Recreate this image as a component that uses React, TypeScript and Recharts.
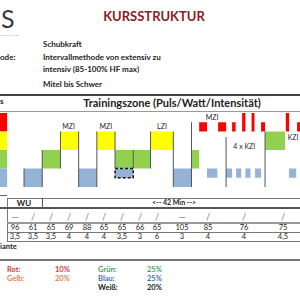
import { ComposedChart, XAxis, YAxis, ReferenceArea, ReferenceLine, ReferenceDot } from 'recharts'

// zone keys -> cell colours used in the sheet
const zoneColors: Record<string, string> = {
  rot: '#ff0000',
  gelb: '#ffff00',
  gruen: '#92d050',
  blau: '#95b3d7',
}

// left colour key (full stack of all four zones)
const keyStack = [
  { from: -1.32, to: -0.93, lo: 3, hi: 4, zone: 'rot' },
  { from: -1.32, to: -0.93, lo: 2, hi: 3, zone: 'gelb' },
  { from: -1.32, to: -0.93, lo: 1, hi: 2, zone: 'gruen' },
  { from: -1.32, to: -0.93, lo: 0, hi: 1, zone: 'blau' },
]

// course segments: time in sections, zone level range
const segments = [
  { from: 0, to: 1, lo: 0, hi: 1, zone: 'blau' },
  { from: 1, to: 2, lo: 1, hi: 2, zone: 'gruen' },
  { from: 2, to: 3, lo: 2, hi: 3, zone: 'gelb' },
  { from: 3, to: 4, lo: 0, hi: 1, zone: 'blau' },
  { from: 4, to: 5, lo: 2, hi: 3, zone: 'gelb' },
  { from: 5, to: 6, lo: 1, hi: 2, zone: 'gruen' },
  { from: 6, to: 6.95, lo: 1, hi: 2, zone: 'gruen' },
  { from: 6.95, to: 8.2, lo: 2, hi: 3, zone: 'gelb' },
  { from: 8.2, to: 9.2, lo: 0, hi: 1, zone: 'blau' },
  { from: 9.2, to: 9.62, lo: 1, hi: 2, zone: 'gruen' },
  { from: 9.62, to: 10.05, lo: 3, hi: 3.5, zone: 'rot' },
  { from: 10.05, to: 10.62, lo: 0.5, hi: 1, zone: 'blau' },
  { from: 10.66, to: 11.1, lo: 3, hi: 3.5, zone: 'rot' },
  { from: 11.1, to: 11.43, lo: 0.5, hi: 1, zone: 'blau' },
  { from: 11.43, to: 11.62, lo: 3, hi: 3.5, zone: 'rot' },
  { from: 11.65, to: 11.93, lo: 0.5, hi: 1, zone: 'blau' },
  { from: 11.98, to: 12.16, lo: 3, hi: 4, zone: 'rot' },
  { from: 12.16, to: 12.44, lo: 0.5, hi: 1, zone: 'blau' },
  { from: 12.5, to: 12.66, lo: 3, hi: 4, zone: 'rot' },
  { from: 12.69, to: 13.02, lo: 0.5, hi: 1, zone: 'blau' },
  { from: 13.02, to: 13.24, lo: 3, hi: 3.5, zone: 'rot' },
  { from: 13.24, to: 14.34, lo: 2, hi: 3, zone: 'gruen' },
  { from: 14.38, to: 14.56, lo: 3, hi: 4, zone: 'rot' },
  { from: 14.56, to: 14.95, lo: 0.5, hi: 1, zone: 'blau' },
  { from: 15.0, to: 15.2, lo: 3, hi: 3.5, zone: 'rot' },
]

// dashed optional recovery block
const dashedBlock = { from: 5, to: 6, lo: 0.5, hi: 1 }

// step edges: time, from level, to level
const edges = [
  [0, 0, 1],
  [1, 0, 2],
  [2, 1, 3],
  [3, 0, 3],
  [4, 0, 3],
  [5, 1, 3],
  [6, 1, 2],
  [6.95, 1, 3],
  [8.2, 0, 3],
  [9.2, 0, 3.5],
  [11.1, 0, 2.7],
  [13.24, 0, 3],
]

const zoneLabels = [
  { t: 2.45, lvl: 3.25, text: 'MZI' },
  { t: 4.5, lvl: 3.25, text: 'MZI' },
  { t: 7.58, lvl: 3.25, text: 'LZI' },
  { t: 10.33, lvl: 3.75, text: 'MZI' },
  { t: 12.1, lvl: 2.2, text: '4 x KZI' },
  { t: 14.78, lvl: 2.7, text: 'KZI' },
]

// table rows below the chart
const symbols = ['—', '/', '/', '/', '/', '/', '/', '/', '/', '—', '/', '/', '/']
const rpm = ['96', '61', '65', '69', '88', '65', '65', '66', '65', '105', '85', '76', '75']
const resistance = ['3,5', '3,5', '3,5', '4', '4', '4', '3,5', '3', '6', '3', '4', '4', '4,5']
const colX = [15, 33, 51, 69, 87, 104, 122, 140, 157, 182, 208, 244, 283]

const legendLeft = [
  ['Rot:', '10%', '#cf3a3c'],
  ['Gelb:', '20%', '#e8844a'],
]
const legendRight = [
  ['Grün:', '25%', '#4f9e5d'],
  ['Blau:', '25%', '#3d6fb4'],
  ['Weiß:', '20%', '#222222'],
]

const font = 'Lato, "Open Sans", sans-serif'

function T({ x, y, s = 8, c = '#222', b = true, center = false, children }: any) {
  return (
    <div
      style={{
        position: 'absolute',
        left: x,
        top: y - s / 2,
        fontSize: s,
        lineHeight: `${s}px`,
        color: c,
        fontWeight: b ? 700 : 400,
        whiteSpace: 'nowrap',
        transform: center ? 'translateX(-50%)' : undefined,
      }}
    >
      {children}
    </div>
  )
}

function HLine({ y, x1 = 0, x2 = 300, w = 1, c = '#888' }: any) {
  return <div style={{ position: 'absolute', left: x1, top: y, width: x2 - x1, height: w, background: c }} />
}

function VLine({ x, y1, y2, w = 1, c = '#888' }: any) {
  return <div style={{ position: 'absolute', left: x, top: y1, width: w, height: y2 - y1, background: c }} />
}

export default function App() {
  const blocks = [...keyStack, ...segments]
  return (
    <div
      style={{
        position: 'absolute',
        left: 0,
        top: 0,
        width: 300,
        height: 300,
        overflow: 'hidden',
        background: '#fff',
        fontFamily: font,
      }}
    >
      {/* header */}
      <div
        style={{
          position: 'absolute',
          left: 1,
          top: 3,
          fontSize: 25,
          lineHeight: 'normal',
          color: '#3a3a3a',
        }}
      >
        S
      </div>
      <div
        style={{
          position: 'absolute',
          left: 0,
          top: 34,
          fontSize: 6,
          lineHeight: '6px',
          color: '#999',
          whiteSpace: 'nowrap',
          transform: 'scale(0.42)',
          transformOrigin: 'left top',
        }}
      >
        SYSTEMS GMBH
      </div>
      <T x={154} y={16} s={13} c="#8b1c26" center>KURSSTRUKTUR</T>
      <T x={43} y={44} s={8}>Schubkraft</T>
      <T x={0} y={57} s={8}>ode:</T>
      <T x={43} y={57} s={8}>Intervallmethode von extensiv zu</T>
      <T x={43} y={69} s={8}>intensiv (85-100% HF max)</T>
      <T x={43} y={84} s={8}>Mitel bis Schwer</T>

      <HLine y={94} w={2} c="#444" />
      <T x={0} y={101} s={8}>s</T>
      <T x={172} y={102} s={11} center>Trainingszone (Puls/Watt/Intensität)</T>
      <HLine y={111} c="#999" />

      <div style={{ position: 'absolute', left: 0, top: 105 }}>
        <ComposedChart
          width={300}
          height={90}
          margin={{ top: 8, right: 0, bottom: 8, left: 0 }}
          data={segments.map((s) => ({ t: s.from }))}
        >
          <XAxis type="number" dataKey="t" domain={[-1.32, 15.16]} hide allowDataOverflow />
          <YAxis type="number" domain={[0, 4]} hide allowDataOverflow />
          {blocks.map((b, i) => (
            <ReferenceArea
              key={'b' + i}
              x1={b.from}
              x2={b.to}
              y1={b.lo}
              y2={b.hi}
              fill={zoneColors[b.zone]}
              fillOpacity={1}
              stroke="none"
              ifOverflow="hidden"
            />
          ))}
          <ReferenceArea
            x1={dashedBlock.from}
            x2={dashedBlock.to}
            y1={dashedBlock.lo}
            y2={dashedBlock.hi}
            fill={zoneColors.blau}
            fillOpacity={1}
            stroke="#111"
            strokeWidth={1.5}
            strokeDasharray="3 2"
          />
          {edges.map(([t, lo, hi], i) => (
            <ReferenceLine
              key={'e' + i}
              segment={[
                { x: t, y: lo },
                { x: t, y: hi },
              ]}
              stroke="#555"
              strokeWidth={1}
            />
          ))}
          {zoneLabels.map((l, i) => (
            <ReferenceDot
              key={'l' + i}
              x={l.t}
              y={l.lvl}
              r={0}
              fill="none"
              stroke="none"
              label={{ value: l.text, position: 'center', fontSize: 7, fill: '#222', fontFamily: font }}
            />
          ))}
        </ComposedChart>
      </div>

      {/* table */}
      <HLine y={195} x1={0} x2={7} c="#666" />
      <HLine y={198} x1={7} c="#777" />
      <VLine x={7} y1={198} y2={242} c="#777" />
      <VLine x={42} y1={198} y2={207} c="#555" />
      <T x={24} y={202.5} s={8} center>WU</T>
      <T x={152} y={202.5} s={7}>{'<-- 42 Min -->'}</T>
      <HLine y={207} w={2} c="#555" />
      {symbols.map((s, i) => (
        <T key={'s' + i} x={colX[i]} y={216} s={9} c="#3f9a66" b={false} center>
          {s}
        </T>
      ))}
      <HLine y={222} x1={7} w={2} c="#999" />
      {rpm.map((v, i) => (
        <T key={'r' + i} x={colX[i]} y={227.5} s={7.5} b={false} center>
          {v}
        </T>
      ))}
      <HLine y={232} x1={7} c="#777" />
      {resistance.map((v, i) => (
        <T key={'w' + i} x={colX[i]} y={237} s={7.5} b={false} center>
          {v}
        </T>
      ))}
      <HLine y={241} x1={7} c="#777" />
      <T x={0} y={247} s={7.5}>iante</T>

      <HLine y={259} w={2} c="#777" />
      {legendLeft.map(([n, p, c], i) => (
        <div key={'ll' + i}>
          <T x={7} y={270 + i * 9} s={7.5} c={c}>{n}</T>
          <T x={55} y={270 + i * 9} s={7.5} c={c}>{p}</T>
        </div>
      ))}
      {legendRight.map(([n, p, c], i) => (
        <div key={'lr' + i}>
          <T x={98} y={270 + i * 9} s={7.5} c={c}>{n}</T>
          <T x={147} y={270 + i * 9} s={7.5} c={c}>{p}</T>
        </div>
      ))}
    </div>
  )
}
